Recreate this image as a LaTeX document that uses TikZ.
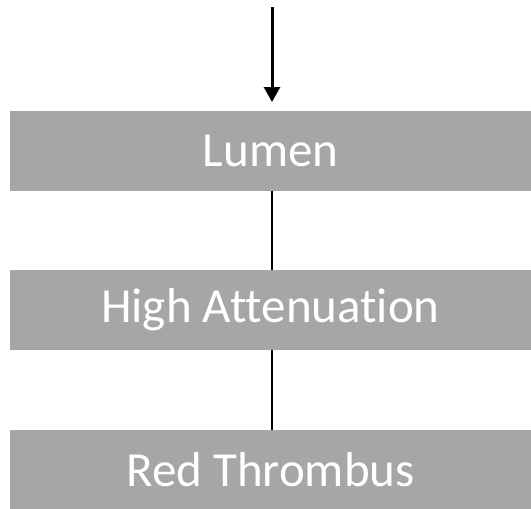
\documentclass[tikz,border=0pt]{standalone}
\usepackage{fontspec}
\setmainfont[Ligatures=NoCommon]{Carlito}
\usetikzlibrary{arrows.meta}
\definecolor{boxgray}{HTML}{A6A6A6}
\tikzset{
  graybox/.style={fill=boxgray, draw=none, minimum width=521pt, minimum height=79.5pt, inner sep=0pt, text=white, font=\fontsize{49}{59}\selectfont},
  link/.style={draw=black, line width=1.8pt},
  inarrow/.style={draw=black, line width=3pt, -{Triangle[width=16pt,length=15pt]}}
}
\begin{document}
\begin{tikzpicture}[x=1pt,y=-1pt]
\useasboundingbox (0,0) rectangle (531,509);
\node[graybox] (lumen) at (270.5,150.75) {Lumen};
\node[graybox] (high) at (270.5,309.75) {High Attenuation};
\node[graybox] (red) at (270.5,469.5) {Red Thrombus};
\coordinate (start) at (272,7);
\coordinate (tip) at (272,102);
\draw[inarrow] (start) -- (tip);
\draw[link] (lumen.south -| 272,0) -- (high.north -| 272,0);
\draw[link] (high.south -| 272,0) -- (red.north -| 272,0);
\end{tikzpicture}
\end{document}
